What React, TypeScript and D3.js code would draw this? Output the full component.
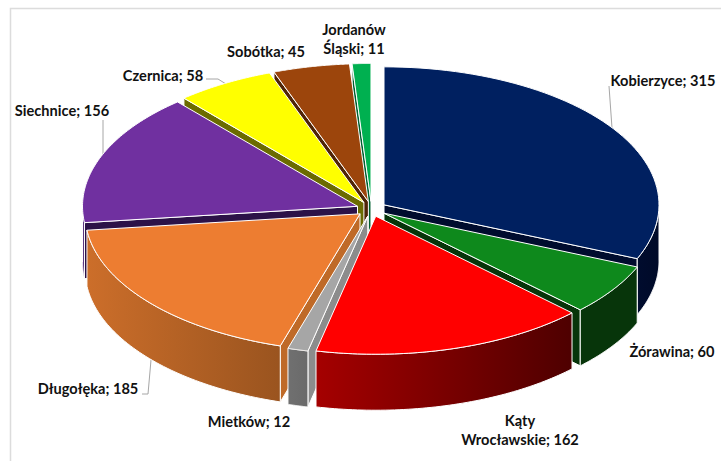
import React from "react";
import * as d3 from "d3";

const categories = ["Kobierzyce", "Żórawina", "Kąty Wrocławskie", "Mietków", "Długołęka", "Siechnice", "Czernica", "Sobótka", "Jordanów Śląski"];
const values = [315, 60, 162, 12, 185, 156, 58, 45, 11];
const topColors = ["#002060", "#0e891c", "#ff0000", "#a6a6a6", "#ed7d31", "#7030a0", "#ffff00", "#9c450c", "#00b050"];
const wallFrom = ["#000c2e", "#07350a", "#a50000", "#707070", "#cc6e2a", "#6a3a96", "#6b6b00", "#4f2406", "#006030"];
const wallTo = ["#000a28", "#07350a", "#4e0000", "#6a6a6a", "#9a541f", "#3c1a5c", "#6b6b00", "#4f2406", "#006030"];
const faceColors = ["#000c2e", "#07350a", "#7a0000", "#8c8c8c", "#bf6a28", "#2c1248", "#6b6b00", "#4f2406", "#006030"];
const paintOrder = [8, 7, 6, 0, 5, 1, 4, 3, 2];

const labels = [
  { lines: ["Kobierzyce; 315"], x: 663, y: 86 },
  { lines: ["Żórawina; 60"], x: 672, y: 357 },
  { lines: ["Kąty", "Wrocławskie; 162"], x: 520, y: 426 },
  { lines: ["Mietków; 12"], x: 249, y: 427 },
  { lines: ["Długołęka; 185"], x: 88, y: 394 },
  { lines: ["Siechnice; 156"], x: 62, y: 116 },
  { lines: ["Czernica; 58"], x: 163, y: 81 },
  { lines: ["Sobótka; 45"], x: 266, y: 57 },
  { lines: ["Jordanów", "Śląski; 11"], x: 354, y: 35 },
];
const leaders = [
  "M609,86L612,128",
  "M103,120L103,155",
  "M206,79L218,79L226,84",
  "M142,394L148,394L151,360",
];

const W = 721, H = 461;
const cx = 371.5, cy = 209, rx = 275, ry = 138, explode = 15, depth = 56;
const tiltRatio = ry / rx;

export default function App() {
  const pie = d3.pie<number>().sort(null).startAngle(0).endAngle(2 * Math.PI);
  const arcs = pie(values);
  const line = d3.line<[number, number]>();

  const slices = arcs.map((a, i) => {
    const mid = (a.startAngle + a.endAngle) / 2;
    const ox = cx + explode * Math.sin(mid);
    const oy = cy - explode * tiltRatio * Math.cos(mid);
    const pt = (t: number, dz = 0): [number, number] => [ox + rx * Math.sin(t), oy - ry * Math.cos(t) + dz];
    const sample = (t0: number, t1: number) =>
      d3.range(0, 61).map((k) => t0 + ((t1 - t0) * k) / 60);
    const rim = sample(a.startAngle, a.endAngle).map((t) => pt(t));
    const top = line([[ox, oy], ...rim])! + "Z";

    const faces: string[] = [];
    if (Math.sin(a.endAngle) > 0.001) {
      const p = pt(a.endAngle), q = pt(a.endAngle, depth);
      faces.push(line([[ox, oy], p, q, [ox, oy + depth]])! + "Z");
    }
    if (Math.sin(a.startAngle) < -0.001) {
      const p = pt(a.startAngle), q = pt(a.startAngle, depth);
      faces.push(line([[ox, oy], p, q, [ox, oy + depth]])! + "Z");
    }

    const w0 = Math.max(a.startAngle, Math.PI / 2);
    const w1 = Math.min(a.endAngle, (3 * Math.PI) / 2);
    let wall: string | null = null;
    if (w1 > w0) {
      const ts = sample(w0, w1);
      wall = line([...ts.map((t) => pt(t)), ...ts.slice().reverse().map((t) => pt(t, depth))])! + "Z";
    }
    return { i, top, faces, wall };
  });

  const ordered = paintOrder.map((i) => slices[i]);

  return (
    <svg width={W} height={H} viewBox={`0 0 ${W} ${H}`} style={{ position: "absolute", left: 0, top: 0, background: "#fff" }}>
      <defs>
        {categories.map((_, i) => (
          <linearGradient key={i} id={`wall${i}`} x1="0" x2="1" y1="0" y2="0">
            <stop offset="0" stopColor={wallFrom[i]} />
            <stop offset="1" stopColor={wallTo[i]} />
          </linearGradient>
        ))}
      </defs>
      <path d={`M${W},8.5H10.5V${H}`} fill="none" stroke="#dcdcdc" strokeWidth={1.5} />
      {leaders.map((d) => (
        <path key={d} d={d} fill="none" stroke="#a6a6a6" strokeWidth={1} />
      ))}
      {ordered.map((s) => (
        <g key={s.i} stroke="#fff" strokeWidth={1} strokeLinejoin="round">
          {s.faces.map((d) => (
            <path key={d} d={d} fill={faceColors[s.i]} />
          ))}
          {s.wall && <path d={s.wall} fill={`url(#wall${s.i})`} />}
          <path d={s.top} fill={topColors[s.i]} />
        </g>
      ))}
      <g fontFamily="Lato, 'Open Sans', sans-serif" fontWeight={700} fontSize={14.6} fill="#111" textAnchor="middle">
        {labels.map((l) => (
          <text key={l.lines.join()} x={l.x} y={l.y}>
            {l.lines.map((t, k) => (
              <tspan key={t} x={l.x} dy={k === 0 ? 0 : 19}>{t}</tspan>
            ))}
          </text>
        ))}
      </g>
    </svg>
  );
}
